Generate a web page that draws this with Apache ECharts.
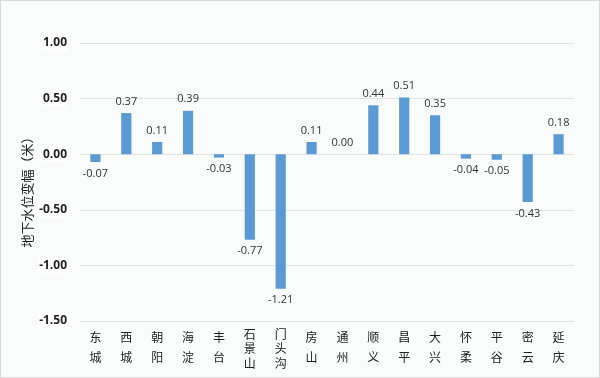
<!DOCTYPE html>
<html><head><meta charset="utf-8">
<script src="https://cdn.jsdelivr.net/npm/echarts@6/dist/echarts.min.js"></script>
<style>html,body{margin:0;padding:0;background:#fafbfb}#c{width:598px;height:376px;border:1px solid #d9d9d9;background:#fafbfb}</style>
</head><body><div id="c"></div>
<script>
const categories = ['东城','西城','朝阳','海淀','丰台','石景山','门头沟','房山','通州','顺义','昌平','大兴','怀柔','平谷','密云','延庆'];
const values = [-0.07,0.37,0.11,0.39,-0.03,-0.77,-1.21,0.11,0.00,0.44,0.51,0.35,-0.04,-0.05,-0.43,0.18];
const yTicks = {min:-1.5, max:1.0, interval:0.5};
const yName = '地下水位变幅（米）';

const chart = echarts.init(document.getElementById('c'));
chart.setOption({
  backgroundColor:'#fafbfb',
  animation:false,
  grid:{left:79,right:25,top:42,bottom:56,containLabel:false,outerBoundsMode:'none'},
  xAxis:{type:'category',data:categories,
    axisLine:{show:false},axisTick:{show:false},
    axisLabel:{interval:0,margin:6,fontSize:12,color:'#222',
      fontFamily:'Noto Sans CJK SC', verticalAlign:'top',
      formatter:v=>v.length>2 ? '{b|'+v.split('').join('\n')+'}' : '{a|'+v.split('').join('\n')+'}',
      rich:{a:{fontSize:12,lineHeight:20,color:'#222',fontFamily:'Noto Sans CJK SC'},
            b:{fontSize:12,lineHeight:14.5,color:'#222',fontFamily:'Noto Sans CJK SC'}}}
  },
  yAxis:{type:'value',min:yTicks.min,max:yTicks.max,interval:yTicks.interval,
    name:yName,nameLocation:'middle',nameGap:46,nameRotate:90,nameMoveOverlap:false,
    nameTextStyle:{fontSize:13,color:'#222',fontFamily:'Noto Sans CJK SC',padding:[0,0,0,-14]},
    axisLine:{show:false},axisTick:{show:false},
    splitLine:{lineStyle:{color:'#e3e3e3',width:1}},
    axisLabel:{margin:12,fontSize:12,fontWeight:'bold',color:'#222',fontFamily:'Open Sans',
      formatter:v=>v.toFixed(2),backgroundColor:'#fff',padding:[2,1]}
  },
  series:[{type:'bar',barWidth:'33%',
    data:values.map(v=>({value:v,label:{position:v<0?'bottom':'top'}})),
    itemStyle:{color:'#5b9bd5'},
    label:{show:true,distance:6,fontSize:11,color:'#333',fontFamily:'Open Sans',
      formatter:p=>p.value.toFixed(2)}
  }]
});
</script></body></html>
